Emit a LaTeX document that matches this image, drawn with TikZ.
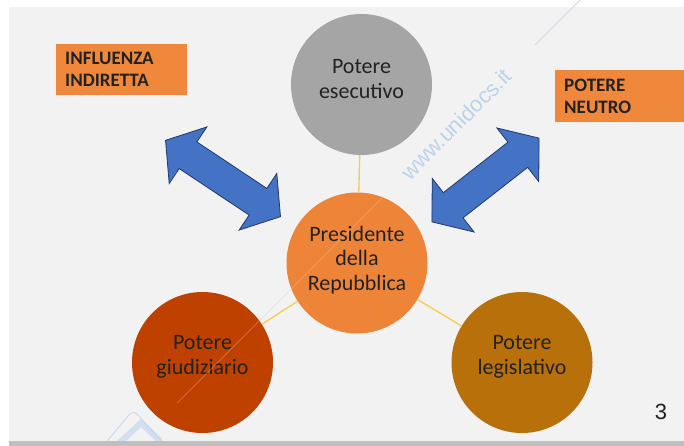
\documentclass[tikz,border=0pt]{standalone}
\usepackage{fontspec}
\setmainfont{Carlito}
\newfontfamily\arialf{Liberation Sans}
\definecolor{bgc}{HTML}{F2F2F2}
\definecolor{barc}{HTML}{BFBFBF}
\definecolor{cEse}{HTML}{A5A5A5}
\definecolor{cPres}{HTML}{EE8438}
\definecolor{cGiu}{HTML}{BF4100}
\definecolor{cLeg}{HTML}{B8700A}
\definecolor{cBox}{HTML}{F0883C}
\definecolor{cBlue}{HTML}{4472C4}
\definecolor{cBlueD}{HTML}{22396A}
\definecolor{cYel}{HTML}{F7CC4A}
\definecolor{cWm}{HTML}{BCD3EC}
\definecolor{cTxt}{HTML}{222222}
\newcommand\myDblArrow[4]{%
  \begin{scope}[shift={(#1,#2)}, rotate=#3]
    \draw[arrowst] (-#4,0) -- (-#4+27,34) -- (-#4+27,16) -- (#4-27,16) -- (#4-27,34) -- (#4,0)
      -- (#4-27,-34) -- (#4-27,-16) -- (-#4+27,-16) -- (-#4+27,-34) -- cycle;
  \end{scope}}
\begin{document}
\begin{tikzpicture}[x=1pt,y=-1pt,
  circ/.style={circle, minimum size=141pt, inner sep=0pt},
  ctext/.style={align=center, text=cTxt, inner sep=0pt, font=\fontsize{22}{24.5}\selectfont},
  boxst/.style={rectangle, fill=cBox, anchor=north west, align=left, text=cTxt,
    inner xsep=9pt, inner ysep=0pt, font=\bfseries\fontsize{19}{22}\selectfont},
  conn/.style={draw=cYel, line width=1.3pt},
  arrowst/.style={fill=cBlue, draw=cBlueD, line width=0.8pt, line join=miter},
  wm/.style={draw=cWm, line width=0.9pt, opacity=0.8}]
\useasboundingbox (0,0) rectangle (684,446);
\fill[white] (0,0) rectangle (684,446);
\fill[bgc] (9,7) rectangle (684,441);
% faint watermark logo
\draw[wm, rounded corners=6pt] (98,452) -- (133,410) -- (172,452);
\draw[draw=cWm, line width=6pt, opacity=0.6] (116,446) -- (141,423) -- (160,441);
\fill[barc] (9,441) rectangle (684,446);
% watermark text
\node[rotate=45, text=cWm, font=\arialf\fontsize{22}{26}\selectfont] (wmt) at (456,124) {www.unidocs.it};
% circles
\node[circ, fill=cEse] (ese) at (361.5,84.5) {};
\node[circ, fill=cPres] (pres) at (357,263) {};
\node[circ, fill=cGiu] (giu) at (202.5,362.5) {};
\node[circ, fill=cLeg] (leg) at (522,362.5) {};
\node[ctext] (eseT) at (361.5,79) {Potere\\esecutivo};
\node[ctext] (presT) at (357,260) {Presidente\\della\\Repubblica};
\node[ctext] (giuT) at (202.5,357) {Potere\\giudiziario};
\node[ctext] (legT) at (522,357) {Potere\\legislativo};
% connectors
\draw[conn] (pres) -- (ese);
\draw[conn] (pres) -- (giu);
\draw[conn] (pres) -- (leg);
% boxes
\node[boxst, text width=113pt, minimum height=51pt] (inf) at (56,44) {INFLUENZA\\INDIRETTA};
\node[boxst, text width=120pt, minimum height=52pt] (neu) at (555,70) {POTERE\\NEUTRO};
% double arrows
\myDblArrow{223}{178.5}{-33.6}{69}
\myDblArrow{485.5}{180}{38}{68}
% watermark line
\draw[wm] (580,0) -- (535,45);
\draw[draw=cWm, line width=0.7pt, opacity=0.4] (384,196) -- (177,403);
% page number
\node[text=cTxt, font=\arialf\fontsize{22}{26}\selectfont] (num) at (661,412) {3};
\end{tikzpicture}
\end{document}
